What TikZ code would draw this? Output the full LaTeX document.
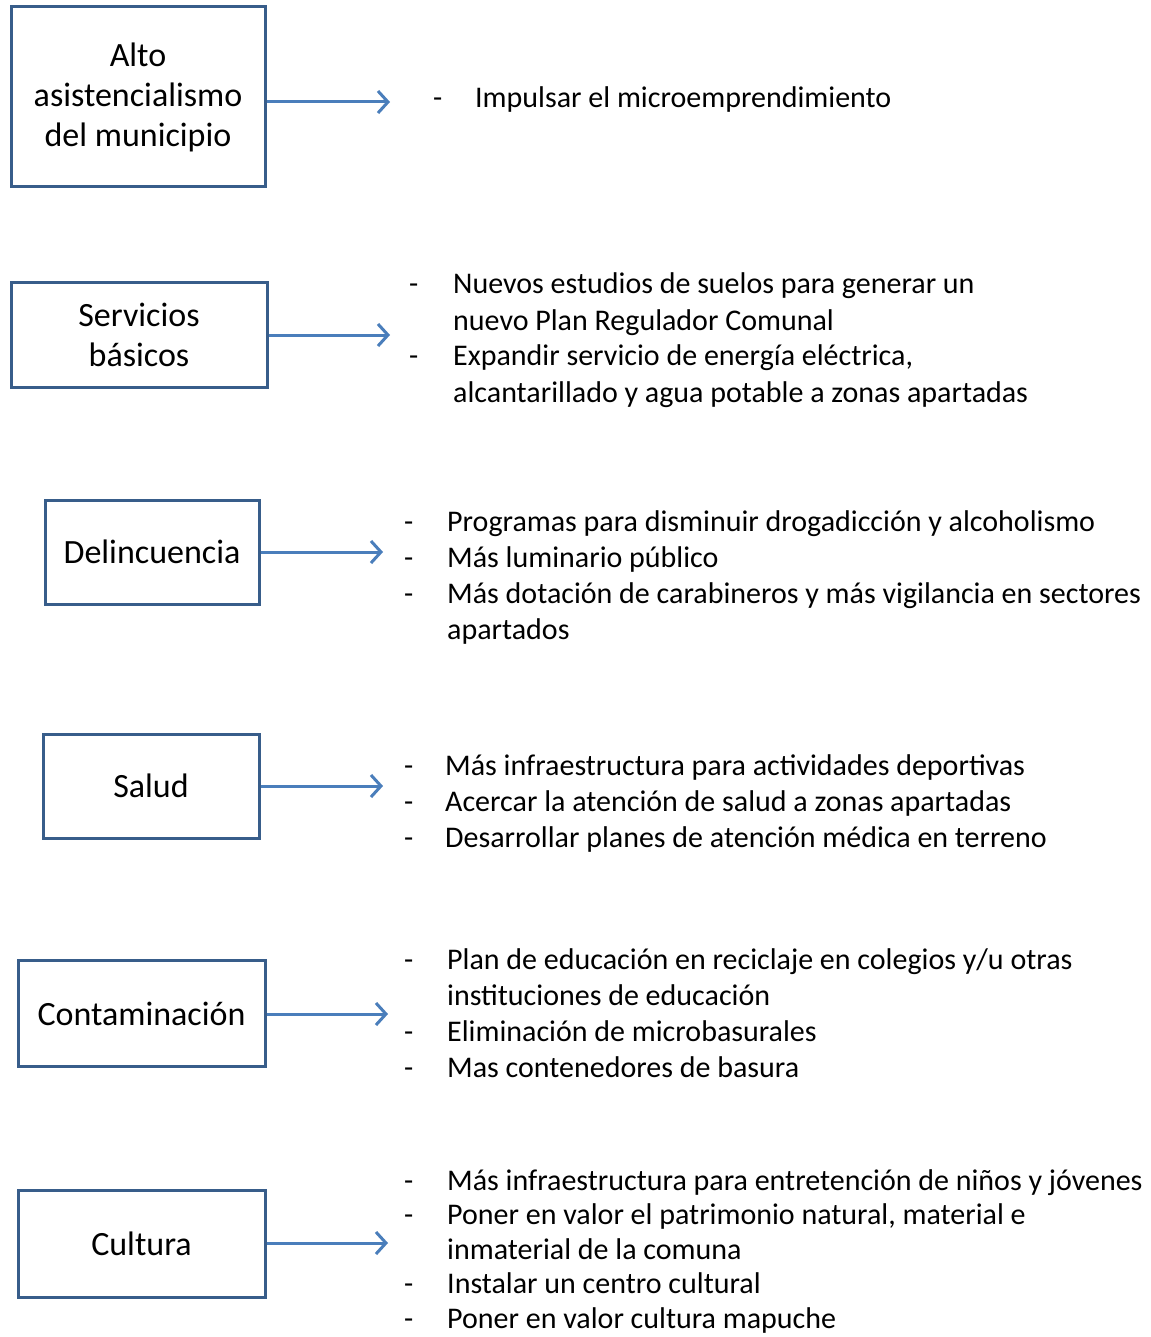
\documentclass[tikz,border=0pt]{standalone}
\usepackage{fontspec}
\setmainfont{Carlito}
\usetikzlibrary{arrows.meta,positioning}

\definecolor{bordeazul}{HTML}{385D8A}
\definecolor{flechaazul}{HTML}{4A7EBB}

\begin{document}
\begin{tikzpicture}[
    x=1pt, y=-1pt,
    problema/.style={draw=bordeazul, line width=3pt, fill=white, align=center,
        inner sep=0pt, font=\fontsize{34}{40}\selectfont},
    flecha/.style={draw=flechaazul, line width=3pt,
        -{Straight Barb[length=10pt, width=22pt, line width=3pt]}},
    lista/.style={anchor=base west, inner sep=0pt, font=\fontsize{30}{36}\selectfont}
]

% -------------------------------------------------
% FRAME
% -------------------------------------------------
\useasboundingbox (0,0) rectangle (1150,1337);

% =================================================
% PROBLEM BOXES
% =================================================
\node[problema, minimum width=254pt, minimum height=180pt] (b1) at (138,97)
    {Alto\\asistencialismo\\del municipio};
\node[problema, minimum width=256pt, minimum height=104pt] (b2) at (139,335)
    {Servicios\\básicos};
\node[problema, minimum width=214pt, minimum height=104pt] (b3) at (152,552)
    {Delincuencia};
\node[problema, minimum width=216pt, minimum height=104pt] (b4) at (151,786)
    {Salud};
\node[problema, minimum width=247pt, minimum height=106pt] (b5) at (141.5,1013.5)
    {Contaminación};
\node[problema, minimum width=247pt, minimum height=107pt] (b6) at (141.5,1243.5)
    {Cultura};

% arrow ends
\coordinate (e1) at (390,102);
\coordinate (e2) at (390,335);
\coordinate (e3) at (383,552);
\coordinate (e4) at (383,786);
\coordinate (e5) at (388,1014);
\coordinate (e6) at (388,1243);

% arrows
\draw[flecha] (b1.east |- e1) -- (e1);
\draw[flecha] (b2.east |- e2) -- (e2);
\draw[flecha] (b3.east |- e3) -- (e3);
\draw[flecha] (b4.east |- e4) -- (e4);
\draw[flecha] (b5.east |- e5) -- (e5);
\draw[flecha] (b6.east |- e6) -- (e6);

% =================================================
% PROPOSALS
% =================================================
\node[lista] (t1) at (433,108) {\begin{tabular}[t]{@{}p{42pt}@{}l@{}}
    - & Impulsar el microemprendimiento
\end{tabular}};

\node[lista] (t2) at (409,294) {\begin{tabular}[t]{@{}p{44pt}@{}l@{}}
    - & Nuevos estudios de suelos para generar un\\
      & nuevo Plan Regulador Comunal\\
    - & Expandir servicio de energía eléctrica,\\
      & alcantarillado y agua potable a zonas apartadas
\end{tabular}};

\node[lista] (t3) at (404,531) {\begin{tabular}[t]{@{}p{43pt}@{}l@{}}
    - & Programas para disminuir drogadicción y alcoholismo\\
    - & Más luminario público\\
    - & Más dotación de carabineros y más vigilancia en sectores\\
      & apartados
\end{tabular}};

\node[lista] (t4) at (404,775) {\begin{tabular}[t]{@{}p{41pt}@{}l@{}}
    - & Más infraestructura para actividades deportivas\\
    - & Acercar la atención de salud a zonas apartadas\\
    - & Desarrollar planes de atención médica en terreno
\end{tabular}};

\node[lista] (t5) at (404,969) {\begin{tabular}[t]{@{}p{43pt}@{}l@{}}
    - & Plan de educación en reciclaje en colegios y/u otras\\
      & instituciones de educación\\
    - & Eliminación de microbasurales\\
    - & Mas contenedores de basura
\end{tabular}};

\node[lista, font=\fontsize{30}{34.6}\selectfont] (t6) at (404,1190) {\begin{tabular}[t]{@{}p{43pt}@{}l@{}}
    - & Más infraestructura para entretención de niños y jóvenes\\
    - & Poner en valor el patrimonio natural, material e\\
      & inmaterial de la comuna\\
    - & Instalar un centro cultural\\
    - & Poner en valor cultura mapuche
\end{tabular}};

\end{tikzpicture}
\end{document}
